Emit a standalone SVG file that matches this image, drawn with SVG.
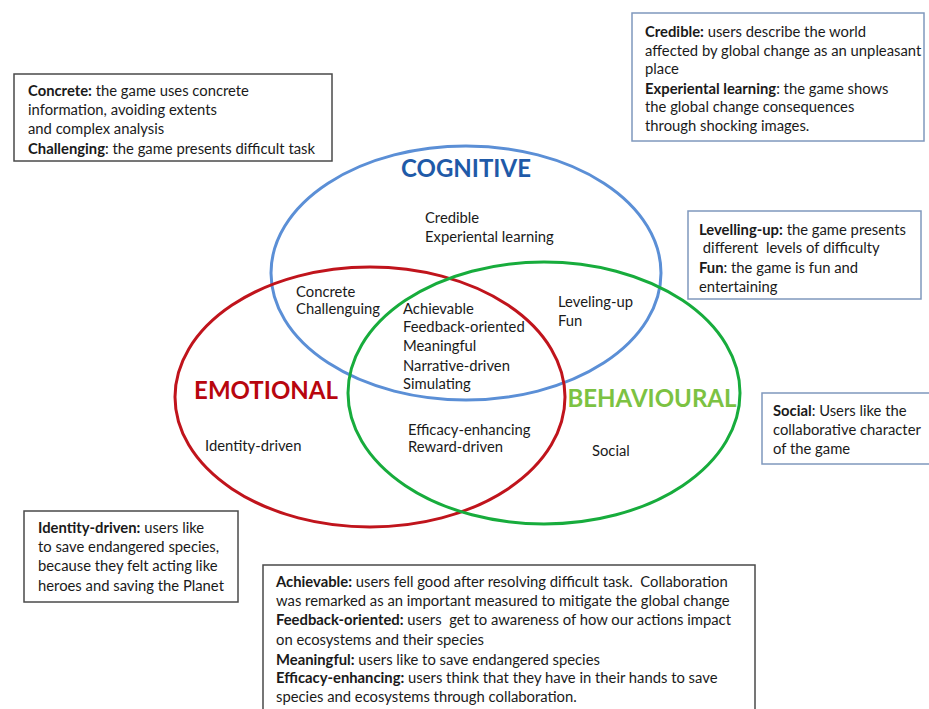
<svg xmlns="http://www.w3.org/2000/svg" width="929" height="709" viewBox="0 0 929 709">
<style>
text{font-family:Lato,"Liberation Sans",sans-serif;fill:#1a1a1a;font-size:14.8px}
.b{font-weight:bold}
.box{fill:#fff;stroke-width:1.5}
.gray{stroke:#4a4a4a}
.blu{stroke:#7f98bd}
.ell{fill:none;stroke-width:3}
.title{font-weight:bold;font-size:24px;text-anchor:middle}
</style>
<rect width="929" height="709" fill="#fff"/>
<g id="venn">
<ellipse id="cognitive-circle" class="ell" cx="466" cy="273" rx="195" ry="127" stroke="#5b8fd6"/>
<ellipse id="emotional-circle" class="ell" cx="370" cy="397" rx="195" ry="130" stroke="#c0141c"/>
<ellipse id="behavioural-circle" class="ell" cx="544" cy="393" rx="196" ry="131" stroke="#17ac3c"/>
</g>
<g id="titles">
<text class="title" x="466" y="177" style="fill:#1f5aa8">COGNITIVE</text>
<text class="title" x="266" y="399" style="fill:#b8060e">EMOTIONAL</text>
<text class="title" x="652" y="407" style="fill:#7cc242">BEHAVIOURAL</text>
</g>
<g id="labels">
<text x="425" y="223">Credible</text>
<text x="425" y="242">Experiental learning</text>
<text x="296" y="297">Concrete</text>
<text x="296" y="314">Challenguing</text>
<text x="403" y="314">Achievable</text>
<text x="403" y="332">Feedback-oriented</text>
<text x="403" y="351">Meaningful</text>
<text x="403" y="371">Narrative-driven</text>
<text x="403" y="389">Simulating</text>
<text x="558" y="307">Leveling-up</text>
<text x="558" y="326">Fun</text>
<text x="408" y="435">Efficacy-enhancing</text>
<text x="408" y="452">Reward-driven</text>
<text x="205" y="451">Identity-driven</text>
<text x="592" y="456">Social</text>
</g>
<g id="box-concrete">
<rect class="box gray" x="14" y="74" width="318" height="87"/>
<text x="28" y="96"><tspan class="b">Concrete:</tspan> the game uses concrete</text>
<text x="28" y="115">information, avoiding extents</text>
<text x="28" y="134">and complex analysis</text>
<text x="28" y="154"><tspan class="b">Challenging</tspan>: the game presents difficult task</text>
</g>
<g id="box-credible">
<rect class="box blu" x="632" y="13" width="292" height="128"/>
<text x="645" y="37"><tspan class="b">Credible:</tspan> users describe the world</text>
<text x="645" y="56">affected by global change as an unpleasant</text>
<text x="645" y="74">place</text>
<text x="645" y="94"><tspan class="b">Experiental learning</tspan>: the game shows</text>
<text x="645" y="112">the global change consequences</text>
<text x="645" y="131">through shocking images.</text>
</g>
<g id="box-levelling">
<rect class="box blu" x="688" y="211" width="233" height="88"/>
<text x="699" y="235"><tspan class="b">Levelling-up:</tspan> the game presents</text>
<text x="699" y="253" xml:space="preserve"> different  levels of difficulty</text>
<text x="699" y="273"><tspan class="b">Fun</tspan>: the game is fun and</text>
<text x="699" y="292">entertaining</text>
</g>
<g id="box-social">
<rect class="box blu" x="762" y="393" width="175" height="71"/>
<text x="773" y="416"><tspan class="b">Social</tspan>: Users like the</text>
<text x="773" y="435">collaborative character</text>
<text x="773" y="454">of the game</text>
</g>
<g id="box-identity">
<rect class="box gray" x="24" y="511" width="214" height="91"/>
<text x="38" y="533"><tspan class="b">Identity-driven:</tspan> users like</text>
<text x="38" y="552">to save endangered species,</text>
<text x="38" y="571">because they felt acting like</text>
<text x="38" y="591">heroes and saving the Planet</text>
</g>
<g id="box-achievable">
<rect class="box gray" x="263" y="565" width="492" height="160"/>
<text x="276" y="587" xml:space="preserve"><tspan class="b">Achievable:</tspan> users fell good after resolving difficult task.  Collaboration</text>
<text x="276" y="606">was remarked as an important measured to mitigate the global change</text>
<text x="276" y="625" xml:space="preserve"><tspan class="b">Feedback-oriented:</tspan> users  get to awareness of how our actions impact</text>
<text x="276" y="645">on ecosystems and their species</text>
<text x="276" y="665"><tspan class="b">Meaningful:</tspan> users like to save endangered species</text>
<text x="276" y="683"><tspan class="b">Efficacy-enhancing:</tspan> users think that they have in their hands to save</text>
<text x="276" y="702">species and ecosystems through collaboration.</text>
</g>
</svg>
